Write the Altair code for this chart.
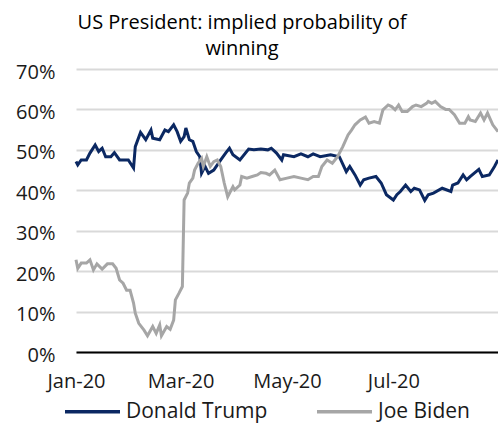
import altair as alt
import pandas as pd

# Implied probability of winning (%), read per date
trump_dates = [
    "2020-01-01", "2020-01-02", "2020-01-04", "2020-01-07", "2020-01-09", "2020-01-12",
    "2020-01-14", "2020-01-16", "2020-01-18", "2020-01-21", "2020-01-23", "2020-01-26",
    "2020-01-31", "2020-02-03", "2020-02-04", "2020-02-07", "2020-02-10", "2020-02-13",
    "2020-02-14", "2020-02-18", "2020-02-21", "2020-02-23", "2020-02-26", "2020-02-28",
    "2020-03-01", "2020-03-03", "2020-03-04", "2020-03-06", "2020-03-08", "2020-03-10",
    "2020-03-12", "2020-03-13", "2020-03-15", "2020-03-17", "2020-03-20", "2020-03-24",
    "2020-03-27", "2020-03-29", "2020-03-31", "2020-04-04", "2020-04-09", "2020-04-12",
    "2020-04-16", "2020-04-20", "2020-04-22", "2020-04-25", "2020-04-28", "2020-04-29",
    "2020-05-05", "2020-05-09", "2020-05-13", "2020-05-16", "2020-05-20", "2020-05-26",
    "2020-05-31", "2020-06-04", "2020-06-06", "2020-06-09", "2020-06-12", "2020-06-14",
    "2020-06-17", "2020-06-21", "2020-06-24", "2020-06-27", "2020-07-01", "2020-07-03",
    "2020-07-05", "2020-07-08", "2020-07-11", "2020-07-13", "2020-07-16", "2020-07-19",
    "2020-07-21", "2020-07-24", "2020-07-29", "2020-08-03", "2020-08-04", "2020-08-07",
    "2020-08-10", "2020-08-12", "2020-08-14", "2020-08-19", "2020-08-21", "2020-08-25",
    "2020-08-28", "2020-08-30",
]
trump_vals = [
    47.1, 46.3, 47.5, 47.5, 49.2, 51.2,
    49.6, 50.4, 48.3, 48.3, 49.3, 47.5,
    47.5, 45.5, 50.8, 54.3, 52.5, 54.9,
    52.9, 52.5, 54.9, 54.5, 56.2, 54.5,
    52.1, 53.3, 55.4, 52.5, 52.1, 49.6,
    48.3, 44.2, 45.9, 44.2, 45.0, 47.5,
    49.3, 50.4, 48.8, 47.5, 50.2, 50.0,
    50.2, 50.0, 50.4, 49.2, 47.5, 48.8,
    48.3, 49.0, 48.3, 49.0, 48.3, 48.8,
    48.3, 44.6, 45.9, 43.8, 41.3, 42.6,
    43.0, 43.4, 41.8, 38.9, 37.6, 38.9,
    39.7, 41.3, 39.7, 40.5, 40.1, 37.5,
    38.9, 39.3, 40.5, 39.7, 41.3, 41.8,
    43.8, 42.6, 43.4, 45.2, 43.4, 43.8,
    45.9, 47.5,
]

biden_dates = [
    "2020-01-01", "2020-01-02", "2020-01-04", "2020-01-07", "2020-01-09", "2020-01-11",
    "2020-01-13", "2020-01-16", "2020-01-19", "2020-01-22", "2020-01-24", "2020-01-26",
    "2020-01-28", "2020-01-30", "2020-02-01", "2020-02-03", "2020-02-04", "2020-02-06",
    "2020-02-09", "2020-02-11", "2020-02-14", "2020-02-16", "2020-02-18", "2020-02-19",
    "2020-02-22", "2020-02-24", "2020-02-26", "2020-02-27", "2020-02-29", "2020-03-02",
    "2020-03-03", "2020-03-05", "2020-03-06", "2020-03-08", "2020-03-09", "2020-03-11",
    "2020-03-13", "2020-03-14", "2020-03-16", "2020-03-18", "2020-03-20", "2020-03-22",
    "2020-03-24", "2020-03-26", "2020-03-28", "2020-03-31", "2020-04-01", "2020-04-04",
    "2020-04-05", "2020-04-08", "2020-04-11", "2020-04-14", "2020-04-16", "2020-04-19",
    "2020-04-21", "2020-04-24", "2020-04-27", "2020-05-01", "2020-05-05", "2020-05-09",
    "2020-05-13", "2020-05-16", "2020-05-19", "2020-05-21", "2020-05-24", "2020-05-27",
    "2020-05-30", "2020-06-02", "2020-06-05", "2020-06-07", "2020-06-09", "2020-06-12",
    "2020-06-15", "2020-06-17", "2020-06-20", "2020-06-23", "2020-06-25", "2020-06-28",
    "2020-06-30", "2020-07-02", "2020-07-04", "2020-07-06", "2020-07-09", "2020-07-12",
    "2020-07-14", "2020-07-17", "2020-07-20", "2020-07-21", "2020-07-23", "2020-07-25",
    "2020-07-28", "2020-07-31", "2020-08-02", "2020-08-05", "2020-08-08", "2020-08-11",
    "2020-08-13", "2020-08-14", "2020-08-17", "2020-08-20", "2020-08-22", "2020-08-24",
    "2020-08-27", "2020-08-30",
]
biden_vals = [
    22.8, 20.7, 22.0, 22.0, 22.8, 20.3,
    21.8, 20.5, 21.8, 21.8, 20.7, 17.8,
    17.0, 15.3, 15.3, 12.1, 9.6, 7.1,
    5.4, 4.0, 6.3, 4.6, 6.7, 4.0,
    6.3, 5.6, 7.9, 12.9, 14.5, 16.2,
    37.6, 39.3, 41.8, 43.0, 45.0, 46.7,
    47.9, 45.9, 48.3, 45.9, 47.1, 47.5,
    45.9, 41.8, 38.4, 40.9, 40.1, 41.3,
    43.4, 43.0, 43.4, 43.8, 44.4, 44.2,
    43.8, 45.0, 42.6, 43.0, 43.4, 43.0,
    42.6, 43.4, 43.4, 45.9, 47.5, 46.7,
    48.3, 50.8, 53.7, 54.9, 56.2, 57.4,
    58.1, 56.6, 57.0, 56.6, 59.9, 61.1,
    60.7, 59.9, 61.1, 59.5, 59.5, 60.7,
    61.1, 60.7, 61.5, 62.0, 61.5, 62.0,
    60.7, 60.0, 60.0, 58.7, 56.6, 56.6,
    58.2, 57.4, 57.0, 59.1, 57.4, 59.1,
    56.2, 54.5,
]

series_names = ["Donald Trump", "Joe Biden"]
series_colors = ["#0b2862", "#a6a6a6"]
y_ticks = [0, 0.1, 0.2, 0.3, 0.4, 0.5, 0.6, 0.7]

df = pd.concat([
    pd.DataFrame({"date": trump_dates, "prob": [v / 100 for v in trump_vals], "candidate": series_names[0]}),
    pd.DataFrame({"date": biden_dates, "prob": [v / 100 for v in biden_vals], "candidate": series_names[1]}),
])

FONT = "Open Sans"
TEXT = "#1a1a1a"

x_ticks = [alt.DateTime(year=2020, month=m, date=1, utc=True) for m in (1, 3, 5, 7)]

chart = alt.Chart(df).mark_line(strokeWidth=3).encode(
    x=alt.X(
        "date:T",
        scale=alt.Scale(
            type="utc",
            domain=[alt.DateTime(year=2020, month=1, date=1, utc=True),
                    alt.DateTime(year=2020, month=8, date=30, utc=True)],
        ),
        axis=alt.Axis(
            title=None,
            values=x_ticks,
            labelExpr="utcFormat(datum.value, '%b-%y')",
            labelFlush=False,
            labelOverlap=False,
            grid=False,
            ticks=False,
            domainColor="#000000",
            domainWidth=2,
            labelPadding=19,
            labelFontSize=20,
            labelColor=TEXT,
            labelFont=FONT,
        ),
    ),
    y=alt.Y(
        "prob:Q",
        scale=alt.Scale(domain=[0, 0.7], nice=False),
        axis=alt.Axis(
            title=None,
            values=y_ticks,
            format=".0%",
            domain=False,
            ticks=False,
            gridColor="#d9d9d9",
            gridWidth=2,
            labelPadding=21,
            labelOffset=3,
            labelFontSize=20,
            labelColor=TEXT,
            labelFont=FONT,
        ),
    ),
    color=alt.Color(
        "candidate:N",
        scale=alt.Scale(domain=series_names, range=series_colors),
        legend=alt.Legend(
            title=None,
            orient="none",
            direction="horizontal",
            legendX=-13,
            legendY=313,
            symbolType="stroke",
            symbolSize=3025,
            symbolStrokeWidth=3.5,
            labelFontSize=21,
            labelFont=FONT,
            labelColor=TEXT,
            labelOffset=4,
            columnPadding=42,
        ),
    ),
).properties(
    width=422,
    height=283,
    title=alt.TitleParams(
        text=["US President: implied probability of", "winning"],
        fontSize=20,
        font=FONT,
        fontWeight="normal",
        color="#000000",
        anchor="middle",
        dx=-45,
        lineHeight=26,
        offset=3,
    ),
    autosize=alt.AutoSizeParams(type="none"),
    padding={"left": 76, "top": 69, "right": 0, "bottom": 71},
).configure_view(stroke=None)

chart.save("out.html", embed_options={"renderer": "svg", "actions": False})
